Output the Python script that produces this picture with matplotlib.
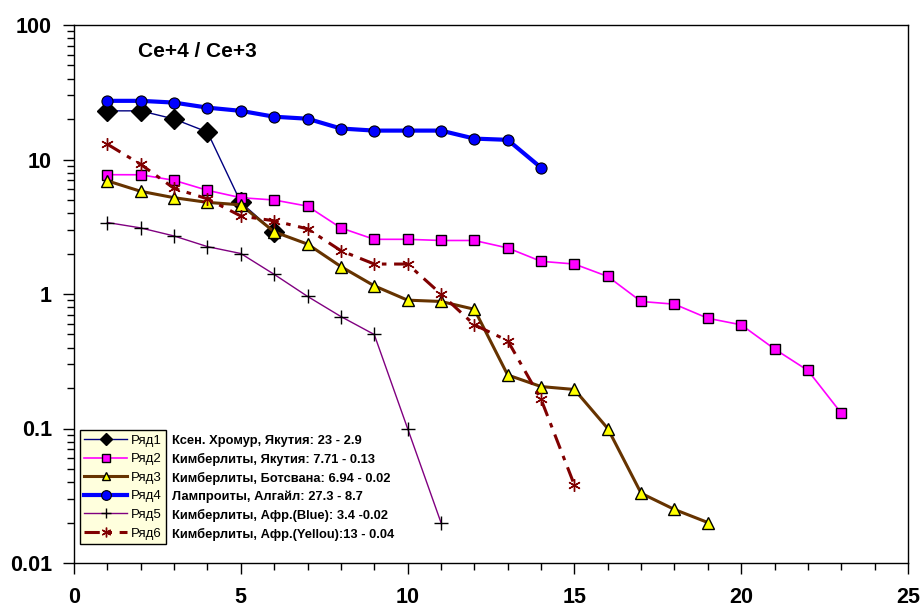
import numpy as np
import matplotlib.pyplot as plt
from matplotlib.lines import Line2D
from matplotlib.ticker import FixedLocator, FuncFormatter, LogLocator, MultipleLocator

plt.rcParams['font.family'] = ['Liberation Sans', 'DejaVu Sans']

# Ce+4 / Ce+3 по рядам
x1 = np.arange(1, 7)
ryad1 = [23, 23, 20, 16, 4.8, 2.9]
x2 = np.arange(1, 24)
ryad2 = [7.71, 7.7, 7.0, 5.9, 5.2, 5.0, 4.5, 3.1, 2.55, 2.55, 2.5, 2.5, 2.2, 1.75,
         1.67, 1.35, 0.88, 0.84, 0.66, 0.59, 0.39, 0.27, 0.13]
x3 = np.arange(1, 20)
ryad3 = [6.94, 5.8, 5.2, 4.8, 4.6, 2.9, 2.35, 1.6, 1.15, 0.9, 0.88, 0.77, 0.25,
         0.205, 0.195, 0.1, 0.033, 0.025, 0.02]
x4 = np.arange(1, 15)
ryad4 = [27.3, 27.3, 26.5, 24.3, 23, 20.8, 20.1, 17, 16.4, 16.4, 16.4, 14.3, 14.0, 8.7]
x5 = np.arange(1, 12)
ryad5 = [3.4, 3.1, 2.7, 2.25, 2.0, 1.4, 0.96, 0.68, 0.5, 0.1, 0.02]
x6 = np.arange(1, 16)
ryad6 = [13, 9.2, 6.1, 5.1, 3.8, 3.5, 3.05, 2.1, 1.67, 1.67, 1.0, 0.59, 0.45, 0.165, 0.038]

names = ['Ряд1', 'Ряд2', 'Ряд3', 'Ряд4', 'Ряд5', 'Ряд6']
opisanie = ['Ксен. Хромур, Якутия: 23 - 2.9',
            'Кимберлиты, Якутия: 7.71 - 0.13',
            'Кимберлиты, Ботсвана: 6.94 - 0.02',
            'Лампроиты, Алгайл: 27.3 - 8.7',
            'Кимберлиты, Афр.(Blue): 3.4 -0.02',
            'Кимберлиты, Афр.(Yellou):13 - 0.04']

fig = plt.figure(figsize=(9.23, 6.10), dpi=100)
ax = fig.add_axes([74/923, 1-563/610, 834/923, 538/610])

styles = [
    dict(color='#000080', lw=1.0, marker='D', ms=10, mfc='black', mec='black'),
    dict(color='#FF00FF', lw=1.2, marker='s', ms=6.5, mfc='#FF00FF', mec='black', mew=1.0),
    dict(color='#663300', lw=2.2, marker='^', ms=8, mfc='#FFFF00', mec='black', mew=1.0),
    dict(color='#0000FF', lw=3.0, marker='o', ms=8, mfc='#0000FF', mec='black', mew=0.8),
    dict(color='#800080', lw=1.0, marker='+', ms=10, mfc='black', mec='black', mew=1.0),
    dict(color='#800000', lw=2.2, marker=(6, 2, 0), ms=9, mfc='#800000', mec='#800000', mew=1.0,
         linestyle=(0, (5, 2.5, 1.5, 2.5))),
]
legend_ms = [6, 6, 6, 7, 7, 7]
xs = [x1, x2, x3, x4, x5, x6]
ys = [ryad1, ryad2, ryad3, ryad4, ryad5, ryad6]
for xx, yy, st in zip(xs, ys, styles):
    ax.plot(xx, yy, **st)

ax.set_yscale('log')
ax.set_xlim(0, 25)
ax.set_ylim(0.01, 100)
ax.xaxis.set_major_locator(MultipleLocator(5))
ax.xaxis.set_minor_locator(MultipleLocator(1))
ax.yaxis.set_major_locator(FixedLocator([0.01, 0.1, 1, 10, 100]))
ax.yaxis.set_minor_locator(LogLocator(base=10, subs=np.arange(2, 10)))
ax.yaxis.set_minor_formatter(FuncFormatter(lambda v, p: ''))
ax.yaxis.set_major_formatter(FuncFormatter(lambda v, p: '%g' % v))
ax.tick_params(axis='both', which='major', direction='out', length=8, width=1,
               labelsize=15.5)
ax.tick_params(axis='both', which='minor', direction='out', length=5, width=1)
ax.tick_params(axis='y', which='major', pad=8)
ax.tick_params(axis='x', which='major', pad=9)
for lab in ax.get_xticklabels() + ax.get_yticklabels():
    lab.set_fontweight('bold')
for sp in ax.spines.values():
    sp.set_linewidth(1.0)

ax.text(0.077, 0.95, 'Ce+4 / Ce+3', transform=ax.transAxes, fontsize=15,
        fontweight='bold', va='center', ha='left')

handles = []
for st, m in zip(styles, legend_ms):
    hs = dict(st)
    hs['ms'] = m
    handles.append(Line2D([], [], **hs))
leg = ax.legend(handles, names, loc='lower left', bbox_to_anchor=(0.007, 0.035),
                borderaxespad=0, fontsize=9.5, frameon=True, fancybox=False,
                facecolor='#FFFFDD', edgecolor='black', framealpha=1,
                handlelength=3.2, labelspacing=0.48, handletextpad=0.3,
                borderpad=0.35)
leg.get_frame().set_linewidth(1.0)

for i, t in enumerate(opisanie):
    ax.text((172-74)/834, (563-441)/538 - i*18.6/538, t, transform=ax.transAxes,
            fontsize=9.3, fontweight='bold', va='center', ha='left')

fig.savefig('out.png', dpi=100)
